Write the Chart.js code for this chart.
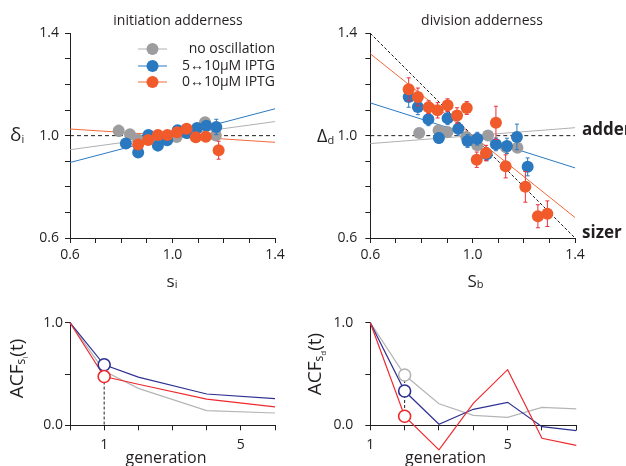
<!DOCTYPE html>
<html>
<head>
<meta charset="utf-8">
<script src="https://cdn.jsdelivr.net/npm/chart.js@4.4.0/dist/chart.umd.min.js"></script>
<style>
  body { margin: 0; background: #fff; width: 626px; height: 466px; overflow: hidden; position: relative; }
  .panel { position: absolute; }
</style>
</head>
<body>
<div class="panel" style="left:0;top:0;width:313px;height:300px"><canvas id="c1"></canvas></div>
<div class="panel" style="left:295px;top:0;width:331px;height:300px"><canvas id="c2"></canvas></div>
<div class="panel" style="left:0;top:300px;width:313px;height:166px"><canvas id="c3"></canvas></div>
<div class="panel" style="left:295px;top:300px;width:331px;height:166px"><canvas id="c4"></canvas></div>
<script>
// ---- data: initiation adderness (top left)
var tlGrayX = [0.79, 0.834, 0.866, 0.95, 1.016, 1.06, 1.127, 1.169];
var tlGrayY = [1.019, 1.005, 0.984, 0.99, 0.995, 1.01, 1.052, 1.001];
var tlGrayErr = [0.022, 0.012, 0.01, 0.01, 0.01, 0.01, 0.012, 0.012];
var tlBlueX = [0.818, 0.866, 0.906, 0.943, 0.979, 1.02, 1.055, 1.096, 1.132, 1.171];
var tlBlueY = [0.969, 0.934, 1.003, 0.961, 0.982, 1.021, 1.01, 1.03, 1.039, 1.034];
var tlBlueErr = [0.012, 0.012, 0.01, 0.012, 0.01, 0.01, 0.01, 0.012, 0.015, 0.03];
var tlOrangeX = [0.866, 0.905, 0.943, 0.98, 1.018, 1.055, 1.091, 1.13, 1.18];
var tlOrangeY = [0.965, 0.983, 1.003, 1.003, 1.013, 1.027, 0.994, 0.996, 0.943];
var tlOrangeErr = [0.012, 0.01, 0.01, 0.01, 0.01, 0.01, 0.01, 0.012, 0.035];
var tlFitX = [0.6, 1.4];
var tlFitGray = [0.945, 1.055];
var tlFitBlue = [0.895, 1.105];
var tlFitOrange = [1.026, 0.974];

// ---- data: division adderness (top right)
var trGrayX = [0.791, 0.867, 0.902, 0.975, 1.018, 1.06, 1.13, 1.175];
var trGrayY = [1.01, 1.021, 1.014, 0.995, 0.962, 1.001, 0.955, 0.953];
var trGrayErr = [0.015, 0.015, 0.015, 0.015, 0.015, 0.015, 0.015, 0.015];
var trBlueX = [0.75, 0.786, 0.827, 0.868, 0.902, 0.944, 0.98, 1.018, 1.055, 1.091, 1.134, 1.173, 1.215];
var trBlueY = [1.151, 1.112, 1.064, 0.991, 1.068, 1.027, 0.979, 0.988, 0.927, 0.966, 0.96, 0.995, 0.878];
var trBlueErr = [0.04, 0.03, 0.025, 0.02, 0.025, 0.025, 0.025, 0.025, 0.025, 0.025, 0.03, 0.05, 0.035];
var trOrangeX = [0.75, 0.786, 0.828, 0.863, 0.902, 0.939, 0.977, 1.016, 1.052, 1.091, 1.129, 1.206, 1.255, 1.292];
var trOrangeY = [1.181, 1.151, 1.111, 1.099, 1.119, 1.079, 1.108, 0.906, 0.932, 1.05, 0.88, 0.8, 0.685, 0.695];
var trOrangeErr = [0.045, 0.035, 0.025, 0.03, 0.025, 0.03, 0.025, 0.03, 0.03, 0.065, 0.045, 0.06, 0.045, 0.05];
var trFitX = [0.6, 1.4];
var trFitGray = [0.969, 1.031];
var trFitBlue = [1.128, 0.874];
var trFitOrange = [1.32, 0.68];
var trSizer = [1.4, 0.6];
var adderLine = [1.0, 1.0];

// ---- data: autocorrelation (bottom)
var blGen = [0, 1, 2, 4, 6];
var blGray = [1.0, 0.53, 0.36, 0.143, 0.12];
var blBlue = [1.0, 0.59, 0.47, 0.305, 0.26];
var blRed = [1.0, 0.475, 0.40, 0.256, 0.18];
var brGen = [1, 2, 3, 4, 5, 6, 7];
var brGray = [1.0, 0.49, 0.21, 0.097, 0.078, 0.175, 0.16];
var brBlue = [1.0, 0.334, 0.01, 0.156, 0.224, -0.013, -0.052];
var brRed = [1.0, 0.088, -0.24, 0.214, 0.542, -0.127, -0.195];

var sizeTicks = ['0.6', '1.0', '1.4'];
var acfTicks = ['0.0', '1.0'];
var genTicks = ['1', '5'];

var FONT = '"Open Sans", "Noto Sans", sans-serif';
var INK = '#231f20';
var GRAY = '#9d9d9f', BLUE = '#2a78c0', ORANGE = '#f15a2b';
var GRAY_FIT = '#b0b0b0', BLUE_FIT = '#2a7ac2', ORANGE_FIT = '#f26a3a', ERR_RED = '#e8303a';
var NAVY = '#2e3192', RED = '#ee2a2f', LGRAY = '#b5b5b5';

function pts(xs, ys) {
  return xs.map(function (x, i) { return { x: x, y: ys[i] }; });
}

function runWidth(ctx, parts) {
  var w = 0;
  parts.forEach(function (p) {
    ctx.font = (p[3] || 'normal') + ' ' + p[1] + 'px ' + FONT;
    w += ctx.measureText(p[0]).width;
  });
  return w;
}

// parts: [text, size, dy, weight]
function drawRun(ctx, x, y, parts, align, angle) {
  ctx.save();
  ctx.translate(x, y);
  if (angle) ctx.rotate(angle);
  var w = runWidth(ctx, parts);
  var cx = align === 'center' ? -w / 2 : (align === 'right' ? -w : 0);
  ctx.fillStyle = INK;
  ctx.textBaseline = 'middle';
  ctx.textAlign = 'left';
  parts.forEach(function (p) {
    ctx.font = (p[3] || 'normal') + ' ' + p[1] + 'px ' + FONT;
    ctx.fillText(p[0], cx, p[2] || 0);
    cx += ctx.measureText(p[0]).width;
  });
  ctx.restore();
}

function textPlugin(drawFn) {
  return { id: 'panelText', afterDraw: function (chart) { drawFn(chart.ctx, chart); } };
}

var errorBars = {
  id: 'errorBars',
  beforeDatasetDraw: function (chart, args) {
    var ds = chart.data.datasets[args.index];
    if (!ds.errors) return;
    var ctx = chart.ctx, xs = chart.scales.x, ys = chart.scales.y;
    ctx.save();
    ctx.strokeStyle = ds.errorColor;
    ctx.lineWidth = 1;
    ds.data.forEach(function (p, i) {
      var e = ds.errors[i];
      var px = xs.getPixelForValue(p.x);
      var top = ys.getPixelForValue(p.y + e), bot = ys.getPixelForValue(p.y - e);
      ctx.beginPath();
      ctx.moveTo(px, top); ctx.lineTo(px, bot);
      ctx.moveTo(px - 2, top); ctx.lineTo(px + 2, top);
      ctx.moveTo(px - 2, bot); ctx.lineTo(px + 2, bot);
      ctx.stroke();
    });
    ctx.restore();
  }
};

function axis(min, max, step, labels, dec, pad, w, h) {
  return {
    type: 'linear', min: min, max: max,
    grid: { drawOnChartArea: false, drawTicks: true, tickLength: 5, color: INK, tickColor: INK },
    border: { color: INK, width: 1 },
    ticks: {
      stepSize: step, autoSkip: false, maxRotation: 0, padding: pad, color: INK,
      font: { family: FONT, size: 14 },
      callback: function (v) { var s = v.toFixed(dec); return labels.indexOf(s) >= 0 ? s : ''; }
    },
    afterFit: function (s) { if (w) s.width = w; if (h) s.height = h; }
  };
}

function scatterSet(xs, ys, errs, color, errColor, order) {
  return { data: pts(xs, ys), errors: errs, errorColor: errColor, backgroundColor: color,
    pointRadius: 6, pointBorderWidth: 0, showLine: false, order: order };
}
function lineSet(xs, ys, color, width, dash, order) {
  return { data: pts(xs, ys), showLine: true, borderColor: color, borderWidth: width,
    borderDash: dash || [], pointRadius: 0, order: order, clip: false };
}
function ringSet(x, y, color, order) {
  return { data: [{ x: x, y: y }], showLine: false, pointRadius: 6, pointBorderWidth: 1.6,
    pointBorderColor: color, pointBackgroundColor: '#fff', order: order, clip: false };
}

function baseOptions(pad, xAxis, yAxis) {
  return {
    responsive: true, maintainAspectRatio: false, animation: false,
    layout: { padding: pad },
    plugins: { legend: { display: false }, tooltip: { enabled: false } },
    scales: { x: xAxis, y: yAxis }
  };
}

// ---- top left
new Chart(document.getElementById('c1'), {
  type: 'scatter',
  data: { datasets: [
    scatterSet(tlOrangeX, tlOrangeY, tlOrangeErr, ORANGE, ERR_RED, 0),
    scatterSet(tlBlueX, tlBlueY, tlBlueErr, BLUE, BLUE, 1),
    scatterSet(tlGrayX, tlGrayY, tlGrayErr, GRAY, GRAY, 2),
    lineSet(tlFitX, tlFitOrange, ORANGE_FIT, 1, null, 3),
    lineSet(tlFitX, tlFitBlue, BLUE_FIT, 1, null, 4),
    lineSet(tlFitX, tlFitGray, GRAY_FIT, 1, null, 5),
    lineSet(tlFitX, adderLine, INK, 1, [4, 3], 6)
  ] },
  options: baseOptions({ left: 0, top: 33.3, right: 38, bottom: 0 },
    axis(0.6, 1.4, 0.1, sizeTicks, 1, 4, 0, 62),
    axis(0.6, 1.4, 0.1, sizeTicks, 1, 6, 70, 0)),
  plugins: [errorBars, textPlugin(function (ctx) {
    drawRun(ctx, 178, 21, [['initiation adderness', 14]], 'center');
    drawRun(ctx, 10, 136, [['δ', 19], ['i', 11, 4]], 'left');
    drawRun(ctx, 172, 282, [['s', 17], ['i', 11, 3]], 'center');
    var rows = [['no oscillation', GRAY, GRAY_FIT, 49], ['5↔10µM IPTG', BLUE, BLUE_FIT, 66], ['0↔10µM IPTG', ORANGE, ORANGE_FIT, 82]];
    rows.forEach(function (r) {
      ctx.save();
      ctx.strokeStyle = r[2]; ctx.lineWidth = 1;
      ctx.beginPath(); ctx.moveTo(138, r[3]); ctx.lineTo(167, r[3]); ctx.stroke();
      ctx.fillStyle = r[1];
      ctx.beginPath(); ctx.arc(152.5, r[3], 6, 0, Math.PI * 2); ctx.fill();
      ctx.restore();
      drawRun(ctx, 275, r[3], [[r[0], 14]], 'right');
    });
  })]
});

// ---- top right
new Chart(document.getElementById('c2'), {
  type: 'scatter',
  data: { datasets: [
    scatterSet(trOrangeX, trOrangeY, trOrangeErr, ORANGE, ERR_RED, 0),
    scatterSet(trBlueX, trBlueY, trBlueErr, BLUE, BLUE, 1),
    scatterSet(trGrayX, trGrayY, trGrayErr, GRAY, GRAY, 2),
    lineSet(trFitX, trSizer, INK, 1, [3, 2], 3),
    lineSet(trFitX, trFitOrange, ORANGE_FIT, 1, null, 4),
    lineSet(trFitX, trFitBlue, BLUE_FIT, 1, null, 5),
    lineSet(trFitX, trFitGray, GRAY_FIT, 1, null, 6),
    lineSet(trFitX, adderLine, INK, 1, [4, 3], 7)
  ] },
  options: baseOptions({ left: 0, top: 33.3, right: 51, bottom: 0 },
    axis(0.6, 1.4, 0.1, sizeTicks, 1, 4, 0, 62),
    axis(0.6, 1.4, 0.1, sizeTicks, 1, 8, 75.3, 0)),
  plugins: [errorBars, textPlugin(function (ctx) {
    drawRun(ctx, 187, 21, [['division adderness', 14]], 'center');
    drawRun(ctx, 22, 137, [['Δ', 18], ['d', 11, 4]], 'left');
    drawRun(ctx, 180.5, 282, [['S', 17], ['b', 11, 3]], 'center');
    drawRun(ctx, 287, 130, [['adder', 17, 0, 'bold']], 'left');
    drawRun(ctx, 287, 233, [['sizer', 17, 0, 'bold']], 'left');
  })]
});

// ---- bottom left
new Chart(document.getElementById('c3'), {
  type: 'scatter',
  data: { datasets: [
    ringSet(blGen[1], blRed[1], RED, 0),
    ringSet(blGen[1], blBlue[1], NAVY, 1),
    lineSet([blGen[1], blGen[1]], [blRed[1], 0], INK, 1, [3, 2], 2),
    lineSet(blGen, blRed, RED, 1.2, null, 3),
    lineSet(blGen, blBlue, NAVY, 1.2, null, 4),
    lineSet(blGen, blGray, LGRAY, 1.2, null, 5)
  ] },
  options: baseOptions({ left: 0, top: 22.7, right: 38, bottom: 0 },
    axis(0, 6, 1, genTicks, 0, 6, 0, 40.7),
    axis(0, 1, 0.5, acfTicks, 1, 2, 70, 0)),
  plugins: [textPlugin(function (ctx) {
    drawRun(ctx, 18, 68.5, [['ACF', 19], ['s', 12, 4], ['i', 8, 8], ['(t)', 19]], 'center', -Math.PI / 2);
    drawRun(ctx, 166, 158, [['generation', 16]], 'center');
  })]
});

// ---- bottom right
new Chart(document.getElementById('c4'), {
  type: 'scatter',
  data: { datasets: [
    ringSet(brGen[1], brRed[1], RED, 0),
    ringSet(brGen[1], brBlue[1], NAVY, 1),
    ringSet(brGen[1], brGray[1], LGRAY, 2),
    lineSet([brGen[1], brGen[1]], [brGray[1], 0], INK, 1, [3, 2], 3),
    lineSet(brGen, brRed, RED, 1.2, null, 4),
    lineSet(brGen, brBlue, NAVY, 1.2, null, 5),
    lineSet(brGen, brGray, LGRAY, 1.2, null, 6)
  ] },
  options: baseOptions({ left: 0, top: 22.7, right: 49.7, bottom: 0 },
    axis(1, 7, 1, genTicks, 0, 6, 0, 40.7),
    axis(0, 1, 0.5, acfTicks, 1, 12, 75.3, 0)),
  plugins: [textPlugin(function (ctx) {
    drawRun(ctx, 21, 64, [['ACF', 19], ['s', 12, 4], ['d', 8, 8], ['(t)', 19]], 'center', -Math.PI / 2);
    drawRun(ctx, 150.5, 158, [['generation', 16]], 'center');
  })]
});
</script>
</body>
</html>
